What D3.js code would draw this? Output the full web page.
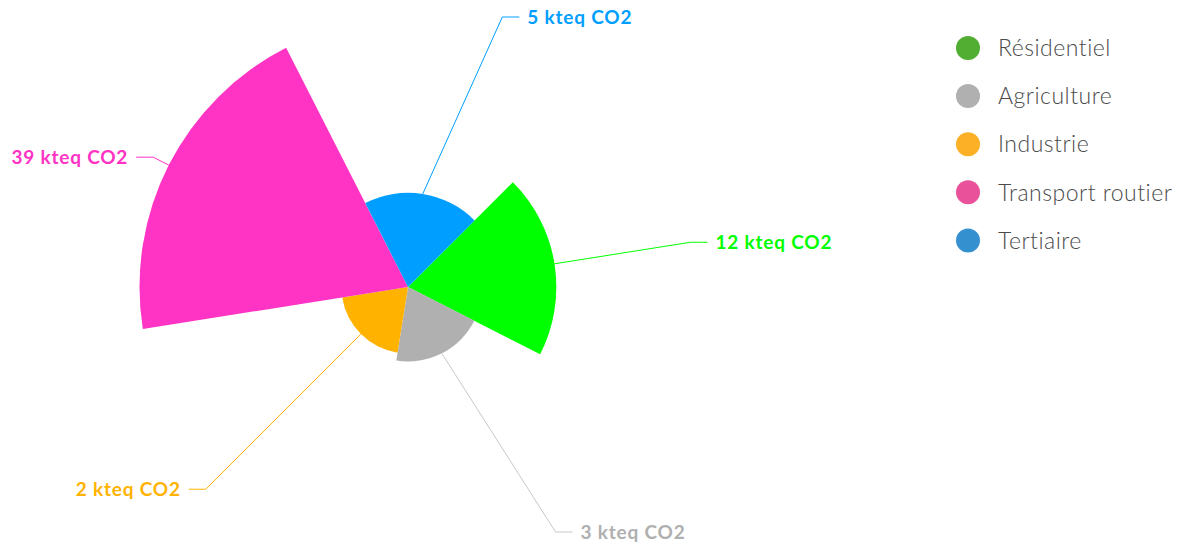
<!DOCTYPE html>
<html>
<head>
<meta charset="utf-8">
<script src="https://cdn.jsdelivr.net/npm/d3@7"></script>
<style>
  body { margin: 0; background: #fff; }
  svg { display: block; font-family: Lato, "Open Sans", sans-serif; }
</style>
</head>
<body>
<svg id="chart" width="1186" height="546"></svg>
<script>
// emissions par secteur (kteq CO2)
const categories = ["Résidentiel", "Agriculture", "Industrie", "Transport routier", "Tertiaire"];
const values = [11.9, 3.0, 2.4, 39.0, 4.8];
const sliceColors = ["#00ff00", "#b0b0b0", "#ffb300", "#ff33c4", "#009fff"];
const legendColors = ["#52ae32", "#b0b0b0", "#fbb025", "#e9519a", "#3590d0"];
const unit = "kteq CO2";

const data = categories.map((c, i) => ({ name: c, value: values[i], color: sliceColors[i], legend: legendColors[i] }))

const width = 1186, height = 546
const cx = 408, cy = 287
const maxR = 268.5
const labelR = 286

const svg = d3.select('#chart')

const r = d3.scaleSqrt()
  .domain([0, d3.max(values)])
  .range([0, maxR])

const start = 45 * Math.PI / 180
const pie = d3.pie()
  .sort(null)
  .value(() => 1)
  .startAngle(start)
  .endAngle(start + 2 * Math.PI)

const arc = d3.arc()
  .innerRadius(0)
  .outerRadius(d => r(d.data.value))

const arcs = pie(data)

const g = svg.append('g')
  .attr('transform', `translate(${cx},${cy})`)

g.selectAll('path.slice')
  .data(arcs)
  .enter()
  .append('path')
  .attr('class', 'slice')
  .attr('d', arc)
  .attr('fill', d => d.data.color)

// labels with connectors
arcs.forEach(d => {
  const a = (d.startAngle + d.endAngle) / 2
  const side = Math.sin(a) >= 0 ? 1 : -1
  const rr = r(d.data.value)
  const x0 = rr * Math.sin(a), y0 = -rr * Math.cos(a)
  let y1 = -labelR * Math.cos(a)
  y1 = Math.max(17 - cy, Math.min(532 - cy, y1))
  const x1 = side * Math.sqrt(labelR * labelR - y1 * y1)
  const x2 = x1 + side * 17

  g.append('path')
    .attr('d', d3.line()([[x0, y0], [x1, y1], [x2, y1]]))
    .attr('fill', 'none')
    .attr('stroke', d.data.color)
    .attr('stroke-opacity', d.data.name === 'Agriculture' ? 0.7 : 1)
    .attr('stroke-width', 1)

  g.append('text')
    .attr('x', x2 + side * 8)
    .attr('y', y1)
    .attr('dy', '0.35em')
    .attr('text-anchor', side > 0 ? 'start' : 'end')
    .attr('font-size', 19)
    .attr('font-weight', 700)
    .attr('letter-spacing', 0.8)
    .attr('fill', d.data.color)
    .text(`${Math.round(d.data.value)} ${unit}`)
})

// legend
const legend = svg.append('g')
  .attr('transform', 'translate(968,48)')

const item = legend.selectAll('g.item')
  .data(data)
  .enter()
  .append('g')
  .attr('class', 'item')
  .attr('transform', (d, i) => `translate(0,${i * 48.1})`)

item.append('circle')
  .attr('r', 12)
  .attr('fill', d => d.legend)

item.append('text')
  .attr('x', 30)
  .attr('dy', '0.36em')
  .attr('font-size', 23)
  .attr('font-weight', 300)
  .attr('letter-spacing', 0.5)
  .attr('fill', '#4a4a4a')
  .text(d => d.name)
</script>
</body>
</html>
